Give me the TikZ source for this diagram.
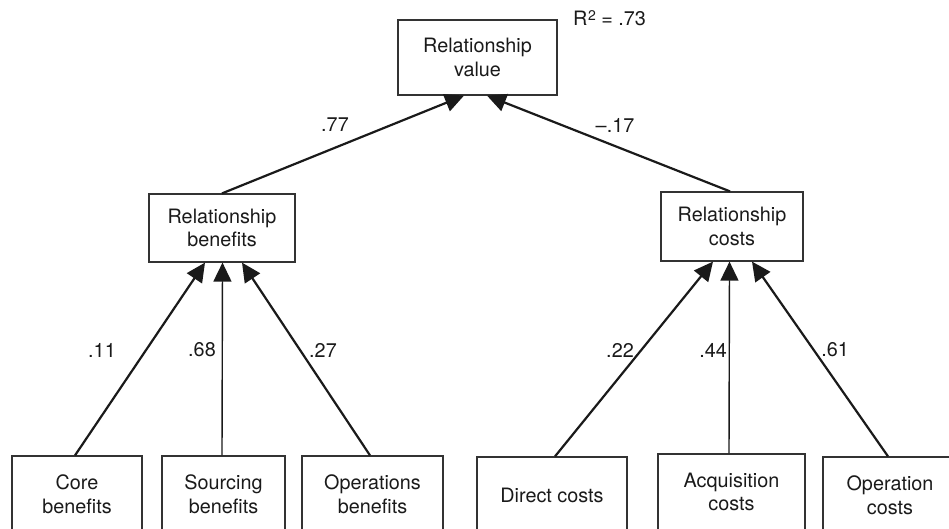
\documentclass[tikz,border=0pt]{standalone}
\usepackage{fontspec}
\setmainfont{TeX Gyre Heros}
\usetikzlibrary{arrows.meta,calc}
\definecolor{ink}{HTML}{1A1A1A}
\definecolor{frame}{HTML}{333333}
\begin{document}
\begin{tikzpicture}[x=1pt,y=-1pt,
  box/.style={draw=frame,line width=1.2pt,rectangle,inner sep=0pt,align=center,
    text=ink,font=\fontsize{19.8}{23.5}\selectfont},
  lbl/.style={text=ink,font=\fontsize{19.8}{23.5}\selectfont,inner sep=0pt},
  arr/.style={draw=ink,line width=2.2pt,-{Triangle[length=19pt,width=18pt]}},
  varr/.style={arr,line width=1.4pt}]
\useasboundingbox (0,0) rectangle (949,529);
\clip (0,0) rectangle (949,529);
\node[box,minimum width=159pt,minimum height=75pt] (rv) at (477.5,57.5) {Relationship\\value};
\node[lbl,anchor=west] (r2) at (573,18) {R\kern0.5pt\raisebox{4.5pt}{\fontsize{14}{14}\selectfont 2} = .73};
\node[box,minimum width=146pt,minimum height=68pt] (rb) at (222,228) {Relationship\\benefits};
\node[box,minimum width=142pt,minimum height=69pt] (rc) at (732,226.5) {Relationship\\costs};
\node[box,minimum width=130pt,minimum height=76pt] (cb) at (77,494) {Core\\benefits};
\node[box,minimum width=123pt,minimum height=76pt] (sb) at (223.5,494) {Sourcing\\benefits};
\node[box,minimum width=141pt,minimum height=76pt] (ob) at (372.5,494) {Operations\\benefits};
\node[box,minimum width=150pt,minimum height=76pt] (dc) at (552,495) {Direct costs};
\node[box,minimum width=147pt,minimum height=76pt] (ac) at (731.5,492) {Acquisition\\costs};
\node[box,minimum width=134pt,minimum height=76pt] (oc) at (890,495) {Operation\\costs};
% connectors
\draw[arr] (rb.north) -- ($(rv.south)+(-13.5,0)$);
\draw[arr] ($(rc.north)+(-2,0)$) -- ($(rv.south)+(9.5,0)$);
\draw[arr] ($(cb.north)+(-2,0)$) -- ($(rb.south)+(-17,0)$);
\draw[varr] ($(sb.north)+(-1.5,0)$) -- ($(rb.south)+(0.5,0)$);
\draw[arr] ($(ob.north)+(-2.5,0)$) -- ($(rb.south)+(20,0)$);
\draw[arr] ($(dc.north)+(3,0)$) -- ($(rc.south)+(-19,0)$);
\draw[varr] ($(ac.north)+(-2.5,0)$) -- ($(rc.south)+(-2.5,0)$);
\draw[arr] ($(oc.north)+(-2,0)$) -- ($(rc.south)+(20,0)$);
% labels
\node[lbl] (l1) at (335,125) {.77};
\node[lbl] (l2) at (615,125) {–.17};
\node[lbl] (l3) at (102,350) {.11};
\node[lbl] (l4) at (202,350) {.68};
\node[lbl] (l5) at (323,350) {.27};
\node[lbl] (l6) at (620,350) {.22};
\node[lbl] (l7) at (713,350) {.44};
\node[lbl] (l8) at (835,350) {.61};
\end{tikzpicture}
\end{document}
